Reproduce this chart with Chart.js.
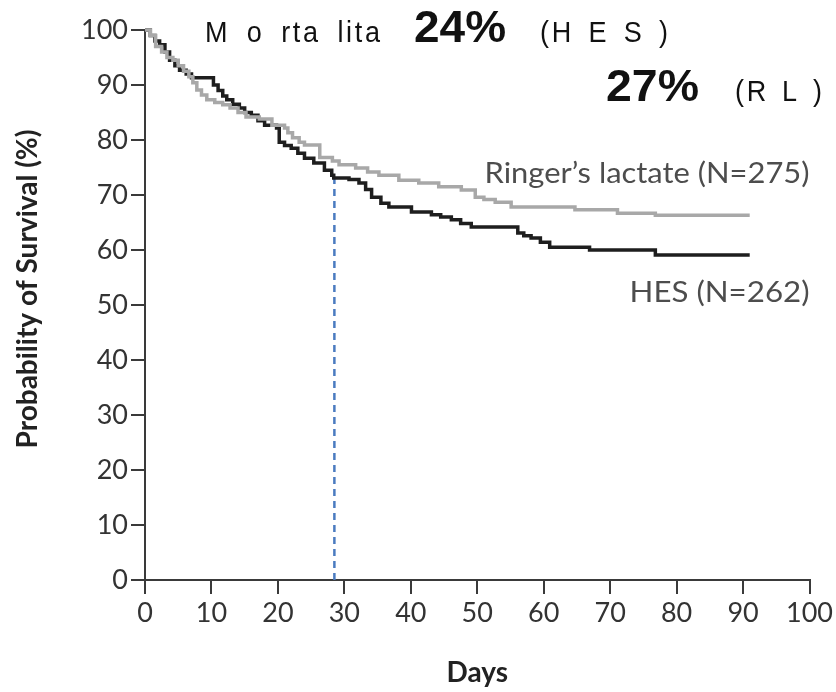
<!DOCTYPE html>
<html>
<head>
<meta charset="utf-8">
<script src="https://cdn.jsdelivr.net/npm/chart.js@4.4.1/dist/chart.umd.min.js"></script>
<style>
  html, body { margin: 0; padding: 0; background: #fff; }
  #wrap { width: 836px; height: 692px; }
</style>
</head>
<body>
<div id="wrap"><canvas id="chart" width="836" height="692"></canvas></div>
<script>
// ================= DATA =================
const xTicks = [0, 10, 20, 30, 40, 50, 60, 70, 80, 90, 100];
const yTicks = [0, 10, 20, 30, 40, 50, 60, 70, 80, 90, 100];

// HES (N=262) - Kaplan-Meier steps (day, survival %)
const hesDays = [0, 0.8, 1.5, 2.2, 3, 3.7, 4.5, 5.2, 6.2, 7, 10.3, 11, 11.7, 12.3, 13.2, 14.2, 15, 16, 17, 18, 19.8, 20.2, 21, 22, 23, 24, 25.4, 27, 28.1, 28.4, 30.7, 32.2, 33.2, 34.1, 35.5, 36.7, 40.1, 43.1, 44.5, 46.1, 47.5, 49.1, 56.1, 57, 58.1, 59.5, 60.9, 66.9, 76.8, 91];
const hesSurv = [100, 99, 98, 97.3, 96, 94.5, 93.5, 92.7, 92, 91.3, 90, 89, 88, 87.3, 86.5, 85.8, 85, 84.5, 83.5, 82.7, 82.2, 79.6, 79, 78.5, 77.6, 76.7, 75.8, 74.5, 73.6, 73.1, 72.8, 72.2, 71, 69.6, 68.5, 67.8, 66.9, 66.4, 66, 65.5, 64.8, 64.2, 63.1, 62.6, 62.2, 61.4, 60.5, 60, 59.1, 59.1];

// Ringer's lactate (N=275)
const rlDays = [0, 0.8, 1.6, 2.5, 3.3, 4.2, 5, 5.8, 6.6, 7.2, 7.8, 8.5, 9.3, 10.5, 11.7, 12.8, 14, 15.2, 17.2, 19.1, 21, 21.5, 22.2, 23.2, 24, 26.3, 28.2, 29.2, 31.7, 33.5, 35.2, 38.2, 41.2, 44.2, 47.6, 49.7, 51, 52.7, 55.1, 64.7, 71.1, 76.8, 91];
const rlSurv = [100, 99, 97, 96, 95, 94.5, 93.5, 92.5, 91.5, 90.4, 89.1, 88.2, 87.3, 86.8, 86.4, 85.8, 85, 84.2, 83.8, 82.7, 82.2, 81.3, 80.4, 79.6, 79.1, 76.8, 76.2, 75.5, 74.9, 74.2, 73.6, 72.7, 72.2, 71.5, 70.9, 69.6, 69.2, 68.7, 67.8, 67.3, 66.7, 66.3, 66.3];

// 28-day marker
const markDay = 28.5;
const markSurv = [0, 73.5];

// ================= CHART =================
const toXY = (xs, ys) => xs.map((x, i) => ({ x, y: ys[i] }));

// draw text stretched to a given width
function fitText(ctx, text, x, y, w, align) {
  const m = ctx.measureText(text).width;
  ctx.save();
  ctx.translate(x, y);
  ctx.scale(w / m, 1);
  ctx.textAlign = "left";
  ctx.fillText(text, align === "right" ? -m : 0, 0);
  ctx.restore();
}

// narrow letters, small letter gap, the rest of the width goes into the spaces
function spacedText(ctx, text, x, y, w, squeeze, letterGap) {
  ctx.save();
  ctx.translate(x, y);
  ctx.scale(squeeze, 1);
  ctx.textAlign = "left";
  const chars = [...text];
  const m = ctx.measureText(text).width + letterGap * (chars.length - 1);
  const spaces = chars.filter(ch => ch === " ").length || 1;
  const extra = (w / squeeze - m) / spaces;
  let cx = 0;
  for (const ch of chars) {
    ctx.fillText(ch, cx, 0);
    cx += ctx.measureText(ch).width + letterGap + (ch === " " ? extra : 0);
  }
  ctx.restore();
}

const textPlugin = {
  id: "texts",
  afterDraw(c) {
    const ctx = c.ctx;
    const xs = c.scales.x;
    const right = xs.getPixelForValue(100);
    ctx.save();
    ctx.textBaseline = "alphabetic";

    // curve labels
    ctx.fillStyle = "#4d4d4d";
    ctx.font = "28px Lato";
    fitText(ctx, "Ringer\u2019s lactate (N=275)", right, 183, 325, "right");
    fitText(ctx, "HES (N=262)", right, 302, 180, "right");

    // y axis title
    ctx.fillStyle = "#222";
    ctx.font = "bold 28px Lato";
    ctx.save();
    ctx.translate(37, 289);
    ctx.rotate(-Math.PI / 2);
    ctx.textAlign = "center";
    ctx.fillText("Probability of Survival (%)", 0, 0);
    ctx.restore();

    // mortality header
    ctx.fillStyle = "#111";
    ctx.font = "30px 'Liberation Sans', Arial, sans-serif";
    spacedText(ctx, "M o rta lita", 205, 42, 175, 0.9, 3);
    spacedText(ctx, "(H E S )", 540, 42, 128, 0.9, 3);
    spacedText(ctx, "(R L )", 735, 101, 87, 0.9, 3);
    ctx.font = "bold 44px 'Liberation Sans', Arial, sans-serif";
    fitText(ctx, "24%", 414, 42, 92);
    fitText(ctx, "27%", 606, 101, 93);
    ctx.restore();
  }
};

const axisColor = "#3a3a3a";

new Chart(document.getElementById("chart"), {
  type: "line",
  data: {
    datasets: [
      {
        label: "Ringer's lactate",
        data: toXY(rlDays, rlSurv),
        borderColor: "#a8a8a8",
        borderWidth: 3.5,
        stepped: "before",
        pointRadius: 0,
        clip: 4
      },
      {
        label: "HES",
        data: toXY(hesDays, hesSurv),
        borderColor: "#1e1e1e",
        borderWidth: 3.5,
        stepped: "before",
        pointRadius: 0,
        clip: 4
      },
      {
        label: "28 days",
        data: markSurv.map(y => ({ x: markDay, y })),
        borderColor: "#4a7bc0",
        borderWidth: 2.5,
        borderDash: [7, 5],
        pointRadius: 0
      }
    ]
  },
  options: {
    responsive: false,
    animation: false,
    layout: { padding: { left: 0, right: 23, top: 30, bottom: 0 } },
    plugins: { legend: { display: false }, tooltip: { enabled: false } },
    scales: {
      x: {
        type: "linear",
        min: 0,
        max: 100,
        afterBuildTicks: s => { s.ticks = xTicks.map(v => ({ value: v })); },
        afterFit: s => { s.height = 112; },
        border: { color: axisColor, width: 2 },
        grid: { drawOnChartArea: false, tickLength: 14, color: axisColor, lineWidth: 2 },
        ticks: { font: { family: "Lato", size: 27 }, color: "#333", padding: 3, maxRotation: 0 },
        title: {
          display: true,
          text: "Days",
          font: { family: "Lato", size: 28, weight: "bold" },
          color: "#222",
          padding: { top: 0, bottom: 2 }
        }
      },
      y: {
        min: 0,
        max: 100,
        afterBuildTicks: s => { s.ticks = yTicks.map(v => ({ value: v })); },
        afterFit: s => { s.width = 145; },
        border: { color: axisColor, width: 2 },
        grid: { drawOnChartArea: false, tickLength: 14, color: axisColor, lineWidth: 2 },
        ticks: { font: { family: "Lato", size: 27 }, color: "#333", padding: 3 }
      }
    }
  },
  plugins: [textPlugin]
});
</script>
</body>
</html>
